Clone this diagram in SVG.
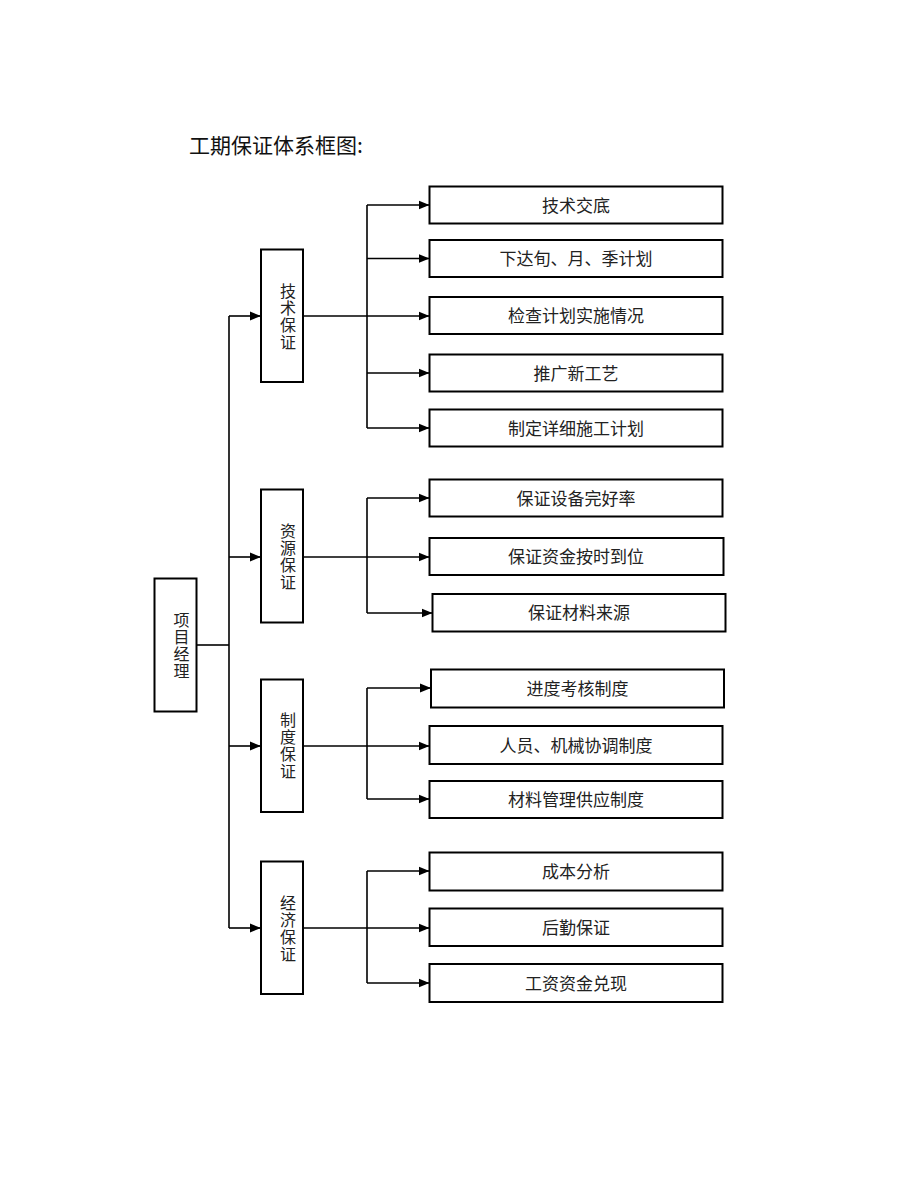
<svg xmlns="http://www.w3.org/2000/svg" width="920" height="1191" viewBox="0 0 920 1191">
<defs>
<marker id="arr" markerUnits="userSpaceOnUse" markerWidth="12" markerHeight="10" refX="11" refY="5" orient="auto">
<path d="M0,0.5 L11,5 L0,9.5 Z" fill="#000"/>
</marker>
<style>
.box{fill:#fff;stroke:#000;stroke-width:2}
.ln{fill:none;stroke:#000;stroke-width:1.6}
.ar{fill:none;stroke:#000;stroke-width:1.6;marker-end:url(#arr)}
.t{font-family:"Noto Sans CJK SC","Noto Sans CJK JP",sans-serif;font-size:17px;fill:#222;text-anchor:middle}
.v{font-family:"Noto Sans CJK SC","Noto Sans CJK JP",sans-serif;font-size:16px;fill:#222;text-anchor:middle;writing-mode:vertical-rl;letter-spacing:1px}
.title{font-family:"Noto Sans CJK SC","Noto Sans CJK JP",sans-serif;font-size:21px;fill:#111}
</style>
</defs>
<rect width="920" height="1191" fill="#fff"/>
<text class="title" x="189" y="153">工期保证体系框图:</text>

<g id="connectors">
<path class="ln" d="M197,645 H229"/>
<path class="ln" d="M229,316 V928"/>
<path class="ar" d="M229,316 H261"/>
<path class="ar" d="M229,557 H261"/>
<path class="ar" d="M229,746 H261"/>
<path class="ar" d="M229,928 H261"/>

<path class="ln" d="M303,316 H367"/>
<path class="ln" d="M367,205 V428"/>
<path class="ar" d="M367,205 H429.5"/>
<path class="ar" d="M367,258.5 H429.5"/>
<path class="ar" d="M367,316 H429.5"/>
<path class="ar" d="M367,373 H429.5"/>
<path class="ar" d="M367,428 H429.5"/>

<path class="ln" d="M303,557 H367"/>
<path class="ln" d="M367,498 V613"/>
<path class="ar" d="M367,498 H429.5"/>
<path class="ar" d="M367,557 H429.5"/>
<path class="ar" d="M367,613 H432.5"/>

<path class="ln" d="M303,746 H367"/>
<path class="ln" d="M367,688 V799"/>
<path class="ar" d="M367,688 H431"/>
<path class="ar" d="M367,746 H429.5"/>
<path class="ar" d="M367,799 H429.5"/>

<path class="ln" d="M303,928 H367"/>
<path class="ln" d="M367,871 V983"/>
<path class="ar" d="M367,871 H429.5"/>
<path class="ar" d="M367,928 H429.5"/>
<path class="ar" d="M367,983 H429.5"/>
</g>

<g id="pm">
<rect class="box" x="154.5" y="578.5" width="42" height="133"/>
<text class="v" x="181.5" y="646">项目经理</text>
</g>

<g id="tech">
<rect class="box" x="261" y="249.5" width="42" height="132.5"/>
<text class="v" x="288" y="316.5">技术保证</text>
</g>
<g id="res">
<rect class="box" x="261" y="489.5" width="42" height="133"/>
<text class="v" x="288" y="556.5">资源保证</text>
</g>
<g id="sys">
<rect class="box" x="261" y="679.5" width="42" height="132.5"/>
<text class="v" x="288" y="746">制度保证</text>
</g>
<g id="eco">
<rect class="box" x="261" y="861.5" width="42" height="132.5"/>
<text class="v" x="288" y="928.5">经济保证</text>
</g>

<g id="n1"><rect class="box" x="429.5" y="186.5" width="293" height="37"/><text class="t" x="576" y="211.5">技术交底</text></g>
<g id="n2"><rect class="box" x="429.5" y="240" width="293" height="37"/><text class="t" x="576" y="265">下达旬、月、季计划</text></g>
<g id="n3"><rect class="box" x="429.5" y="297" width="293" height="37"/><text class="t" x="576" y="322">检查计划实施情况</text></g>
<g id="n4"><rect class="box" x="429.5" y="354.5" width="293" height="37"/><text class="t" x="576" y="379.5">推广新工艺</text></g>
<g id="n5"><rect class="box" x="429.5" y="409.5" width="293" height="37"/><text class="t" x="576" y="434.5">制定详细施工计划</text></g>

<g id="n6"><rect class="box" x="429.5" y="479.5" width="293" height="37"/><text class="t" x="576" y="504.5">保证设备完好率</text></g>
<g id="n7"><rect class="box" x="429.5" y="538" width="294" height="37"/><text class="t" x="576" y="563">保证资金按时到位</text></g>
<g id="n8"><rect class="box" x="432.5" y="594" width="293" height="37.5"/><text class="t" x="579" y="619">保证材料来源</text></g>

<g id="n9"><rect class="box" x="431" y="669.5" width="293" height="38"/><text class="t" x="577.5" y="695">进度考核制度</text></g>
<g id="n10"><rect class="box" x="429.5" y="726" width="293" height="38"/><text class="t" x="576" y="751.5">人员、机械协调制度</text></g>
<g id="n11"><rect class="box" x="429.5" y="781" width="293" height="37"/><text class="t" x="576" y="806">材料管理供应制度</text></g>

<g id="n12"><rect class="box" x="429.5" y="852.5" width="293" height="38"/><text class="t" x="576" y="878">成本分析</text></g>
<g id="n13"><rect class="box" x="429.5" y="908.5" width="293" height="37.5"/><text class="t" x="576" y="934">后勤保证</text></g>
<g id="n14"><rect class="box" x="429.5" y="964" width="293" height="38"/><text class="t" x="576" y="989.5">工资资金兑现</text></g>
</svg>
